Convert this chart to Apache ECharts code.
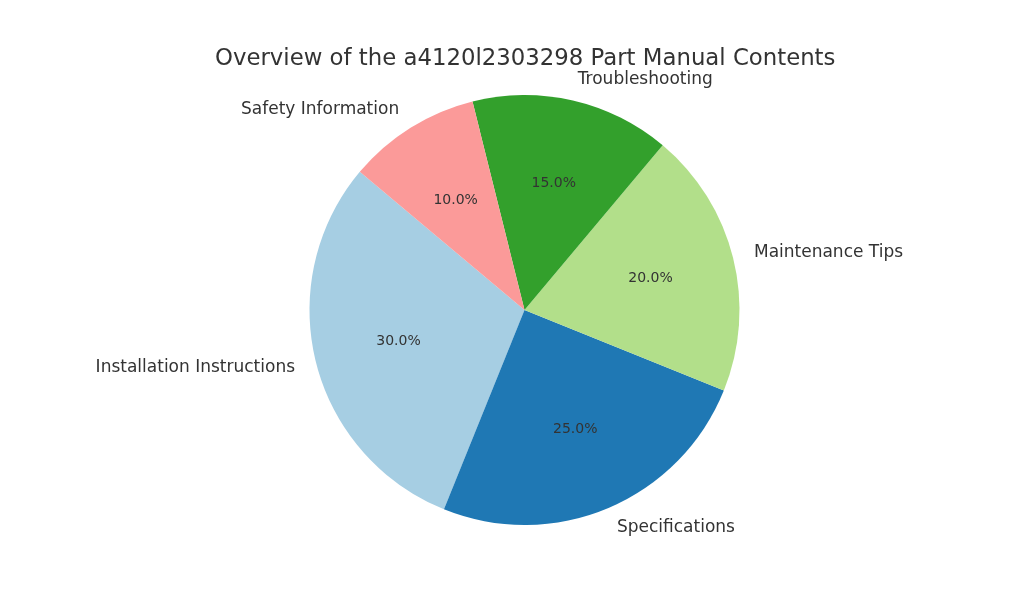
<!DOCTYPE html>
<html>
<head>
<meta charset="utf-8">
<script src="https://cdn.jsdelivr.net/npm/echarts@6/dist/echarts.min.js"></script>
<style>html,body{margin:0;padding:0;background:#fff}#c{width:1024px;height:614px}</style>
</head>
<body>
<div id="c"></div>
<script>
const titleText = 'Overview of the a4120l2303298 Part Manual Contents';
const categories = ['Installation Instructions', 'Specifications', 'Maintenance Tips', 'Troubleshooting', 'Safety Information'];
const values = [30, 25, 20, 15, 10];
const colors = ['#a6cee3', '#1f78b4', '#b2df8a', '#33a02c', '#fb9a99'];

const total = values.reduce((a, b) => a + b, 0);
const font = 'DejaVu Sans';
const center = [524.5, 310];
const R = 215;

const chart = echarts.init(document.getElementById('c'), null, {renderer: 'canvas'});
chart.setOption({
  animation: false,
  backgroundColor: '#ffffff',
  title: {
    text: titleText,
    left: 215,
    top: 46,
    padding: 0,
    textStyle: {fontFamily: font, fontSize: 22.8, fontWeight: 'normal', color: '#333333', lineHeight: 26}
  },
  series: [
    {
      type: 'pie',
      center: center,
      radius: [0, R],
      startAngle: 140,
      clockwise: false,
      avoidLabelOverlap: false,
      silent: true,
      itemStyle: {borderWidth: 0},
      label: {
        show: true,
        position: 'outside',
        fontFamily: font,
        fontSize: 17,
        color: '#333333',
        distanceToLabelLine: 0
      },
      labelLine: {show: false, length: R * 0.1, length2: 0},
      data: categories.map((n, i) => ({name: n, value: values[i], itemStyle: {color: colors[i]}}))
    },
    {
      type: 'pie',
      center: center,
      radius: [R * 0.18, R],
      startAngle: 140,
      clockwise: false,
      avoidLabelOverlap: false,
      silent: true,
      itemStyle: {color: 'rgba(0,0,0,0)', borderWidth: 0},
      label: {
        show: true,
        position: 'inside',
        fontFamily: font,
        fontSize: 14,
        color: '#333333',
        formatter: p => (p.value / total * 100).toFixed(1) + '%'
      },
      labelLine: {show: false},
      data: categories.map((n, i) => ({name: n, value: values[i]}))
    }
  ]
});
</script>
</body>
</html>
